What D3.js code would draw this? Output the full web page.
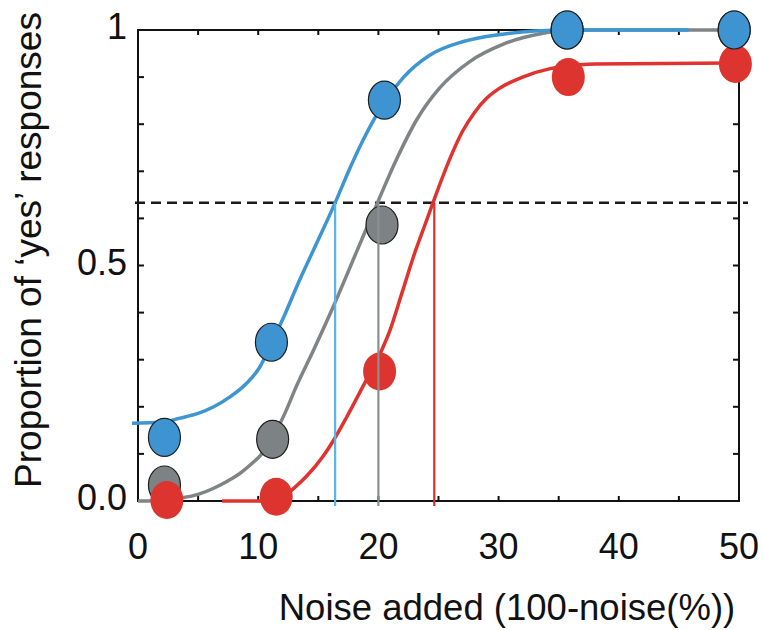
<!DOCTYPE html>
<html>
<head>
<meta charset="utf-8">
<script src="https://cdn.jsdelivr.net/npm/d3@7"></script>
<style>
  html, body { margin: 0; padding: 0; background: #fff; }
  svg { display: block; font-family: "Liberation Sans", Arial, Helvetica, sans-serif; }
</style>
</head>
<body>
<svg id="chart" width="763" height="630"></svg>
<script>
// ---------- data ----------
const xTickLabels = [0, 10, 20, 30, 40, 50];
const xMinorTicks = [0, 5, 10, 15, 20, 25, 30, 35, 40, 45, 50];
const yTickValues = [0, 0.5, 1];
const yTickLabels = ["0.0", "0.5", "1"];
const yMinorTicks = [0, 0.1, 0.2, 0.3, 0.4, 0.5, 0.6, 0.7, 0.8, 0.9, 1];

const threshold = 0.633;
const thresholdX = [16.4, 20.0, 24.65];       // blue, gray, red

// fitted curves
const blueCurveX = [-0.5, 2, 3.5, 5, 6.3, 7.65, 9.04, 10.15, 11.1, 12.2, 13.2, 14.6, 16.4, 17.6, 18.7, 20.4, 22.1, 24.3, 27, 30, 33, 36, 45.8];
const blueCurveY = [0.165, 0.167, 0.176, 0.186, 0.200, 0.221, 0.250, 0.285, 0.335, 0.395, 0.455, 0.533, 0.633, 0.705, 0.765, 0.843, 0.900, 0.947, 0.975, 0.990, 0.998, 1.0, 1.0];

const grayCurveX = [0, 2, 3.5, 5, 6.3, 7.5, 8.5, 9.5, 10.3, 11.2, 12.2, 13.2, 14.6, 16.25, 18.2, 19.9, 21.5, 23.2, 25.1, 27.6, 30.4, 33.7, 36, 50];
const grayCurveY = [0, 0.001, 0.006, 0.014, 0.027, 0.043, 0.059, 0.080, 0.100, 0.135, 0.185, 0.245, 0.320, 0.413, 0.530, 0.632, 0.725, 0.810, 0.877, 0.933, 0.970, 0.993, 1.0, 1.0];

const redCurveX = [7, 11, 12, 13, 14, 15.4, 16.3, 17.4, 18.75, 20, 21, 22, 23, 24, 25, 26, 27, 28, 29, 30, 32, 34.3, 38, 50];
const redCurveY = [0, 0, 0.008, 0.028, 0.052, 0.095, 0.130, 0.180, 0.245, 0.305, 0.365, 0.445, 0.525, 0.595, 0.665, 0.730, 0.785, 0.825, 0.855, 0.875, 0.900, 0.918, 0.928, 0.930];

// data points
const bluePointsX = [2.2, 11.1, 20.5, 35.7, 49.6];
const bluePointsY = [0.135, 0.337, 0.851, 1.0, 1.0];
const grayPointsX = [2.2, 11.2, 20.3, 35.7, 49.6];
const grayPointsY = [0.034, 0.131, 0.586, 1.0, 1.0];
const redPointsX  = [2.4, 11.5, 20.1, 35.8, 49.7];
const redPointsY  = [0.002, 0.009, 0.275, 0.900, 0.928];

const xTitle = "Noise added (100-noise(%))";
const yTitle = "Proportion of \u2018yes\u2019 responses";

// ---------- layout ----------
const L = 138, R = 739, T = 30, B = 501;
const svg = d3.select("#chart");
const x = d3.scaleLinear().domain([0, 50]).range([L, R]);
const y = d3.scaleLinear().domain([0, 1]).range([B, T]);

const zip = (xs, ys) => xs.map((v, i) => [v, ys[i]]);

// frame
svg.append("rect")
  .attr("x", L).attr("y", T).attr("width", R - L).attr("height", B - T)
  .attr("fill", "none").attr("stroke", "#111").attr("stroke-width", 2);

// inward ticks
const tickG = svg.append("g").attr("stroke", "#111").attr("stroke-width", 2);
tickG.selectAll(".tb").data(xMinorTicks).join("line")
  .attr("x1", d => x(d)).attr("x2", d => x(d)).attr("y1", B).attr("y2", B - 5);
tickG.selectAll(".tt").data(xMinorTicks).join("line")
  .attr("x1", d => x(d)).attr("x2", d => x(d)).attr("y1", T).attr("y2", T + 5);
tickG.selectAll(".tl").data(yMinorTicks).join("line")
  .attr("x1", L).attr("x2", L + 6).attr("y1", d => y(d)).attr("y2", d => y(d));
tickG.selectAll(".tr").data(yMinorTicks).join("line")
  .attr("x1", R).attr("x2", R - 6).attr("y1", d => y(d)).attr("y2", d => y(d));

// tick labels
svg.append("g").selectAll("text").data(xTickLabels).join("text")
  .attr("x", d => x(d)).attr("y", 559)
  .attr("text-anchor", "middle").attr("font-size", 36).attr("fill", "#111")
  .text(d => d);
svg.append("g").selectAll("text").data(yTickValues).join("text")
  .attr("x", 127).attr("y", d => y(d) + 9)
  .attr("text-anchor", "end").attr("font-size", 36).attr("fill", "#111")
  .text((d, i) => yTickLabels[i]);

// axis titles
svg.append("text").attr("x", 507).attr("y", 620)
  .attr("text-anchor", "middle").attr("font-size", 36.5).attr("fill", "#111")
  .text(xTitle);
svg.append("text").attr("transform", "translate(41,250) rotate(-90)")
  .attr("text-anchor", "middle").attr("font-size", 37).attr("fill", "#111")
  .text(yTitle);

// dashed threshold line
svg.append("line")
  .attr("x1", L - 3).attr("x2", R + 9)
  .attr("y1", y(threshold)).attr("y2", y(threshold))
  .attr("stroke", "#1a1a1a").attr("stroke-width", 2.5)
  .attr("stroke-dasharray", "10,6");

// curves
const line = d3.line().x(d => x(d[0])).y(d => y(d[1])).curve(d3.curveMonotoneX);
const curves = [
  { xs: grayCurveX, ys: grayCurveY, c: "#7f8487" },
  { xs: blueCurveX, ys: blueCurveY, c: "#3d95d2" },
  { xs: redCurveX,  ys: redCurveY,  c: "#e0332f" }
];
curves.forEach(cv => {
  svg.append("path").datum(zip(cv.xs, cv.ys))
    .attr("d", line).attr("fill", "none")
    .attr("stroke", cv.c).attr("stroke-width", 3.5)
    .attr("stroke-linejoin", "round");
});

const RX = 16, RY = 19;
// gray points
svg.append("g").selectAll("ellipse").data(zip(grayPointsX, grayPointsY)).join("ellipse")
  .attr("cx", d => x(d[0])).attr("cy", d => y(d[1])).attr("rx", RX).attr("ry", RY)
  .attr("fill", "#7d8284").attr("stroke", "#1e1e1e").attr("stroke-width", 1.2);
// red points
svg.append("g").selectAll("ellipse").data(zip(redPointsX, redPointsY)).join("ellipse")
  .attr("cx", d => x(d[0])).attr("cy", d => y(d[1])).attr("rx", RX + 0.5).attr("ry", RY)
  .attr("fill", "#dd3430");

// vertical threshold lines
const vColors = ["#58b5e6", "#8a8f91", "#d8302c"];
svg.append("g").selectAll("line").data(thresholdX).join("line")
  .attr("x1", d => x(d)).attr("x2", d => x(d))
  .attr("y1", B + 5).attr("y2", y(threshold))
  .attr("stroke", (d, i) => vColors[i]).attr("stroke-width", 2.2);

// blue points
svg.append("g").selectAll("ellipse").data(zip(bluePointsX, bluePointsY)).join("ellipse")
  .attr("cx", d => x(d[0])).attr("cy", d => y(d[1])).attr("rx", RX).attr("ry", RY)
  .attr("fill", "#3e94d0").attr("stroke", "#1e1e1e").attr("stroke-width", 1.2);
</script>
</body>
</html>
